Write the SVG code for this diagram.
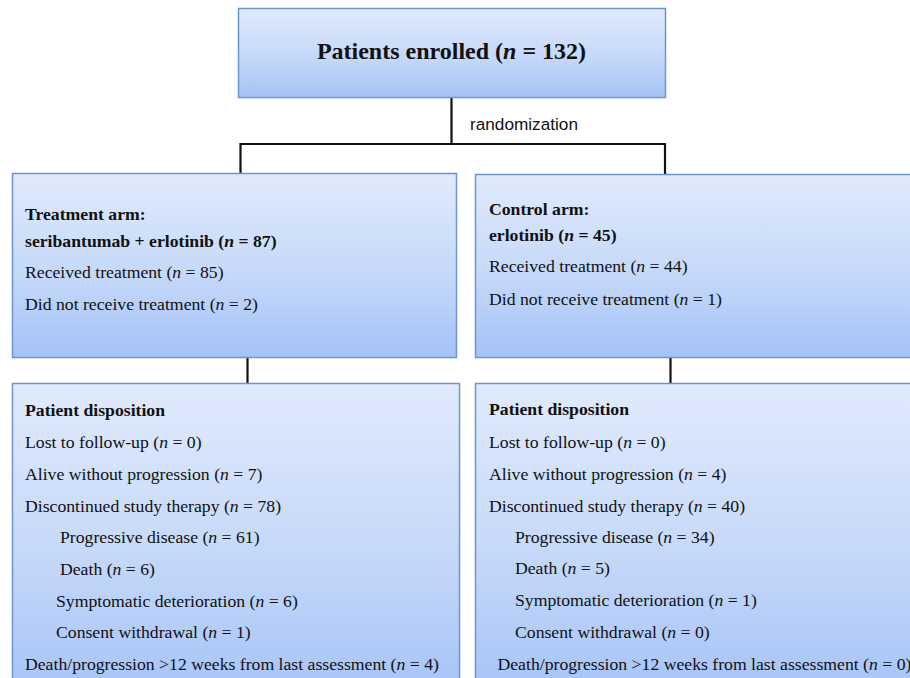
<svg xmlns="http://www.w3.org/2000/svg" width="910" height="678" viewBox="0 0 910 678">
<style>
.box{stroke:#6a94d4;stroke-width:1.5}
.t{font-family:"Liberation Serif","Times New Roman",serif;font-size:17.7px;fill:#111}
.b{font-weight:bold}
.i{font-style:italic}
.title{font-family:"Liberation Serif","Times New Roman",serif;font-size:24px;font-weight:bold;fill:#111}
.lab{font-family:"Liberation Sans",Arial,sans-serif;font-size:17.2px;fill:#111}
.conn{stroke:#111;stroke-width:2.2;fill:none}
</style>
<defs>
<linearGradient id="g" x1="0" y1="0" x2="0" y2="1">
<stop offset="0" stop-color="#e0eafc"/>
<stop offset="0.5" stop-color="#c8daf9"/>
<stop offset="1" stop-color="#a5c3f7"/>
</linearGradient>
</defs>
<g id="connectors">
<path class="conn" d="M451.5 97 V144 M239.5 144 H665 M240.5 143 V173 M665 143 V174"/>
<path class="conn" d="M247.5 357 V384"/>
<path class="conn" d="M670.5 358 V383"/>
<text class="lab" x="470" y="130">randomization</text>
</g>
<g id="enrolled">
<rect class="box" x="238.5" y="8.5" width="427" height="89" fill="url(#g)"/>
<text class="title" x="451.5" y="59" text-anchor="middle">Patients enrolled (<tspan class="i">n</tspan> = 132)</text>
</g>
<g id="treatment-arm">
<rect class="box" x="12.5" y="173.5" width="444" height="184" fill="url(#g)"/>
<text class="t b" x="25" y="220">Treatment arm:</text>
<text class="t b" x="25" y="247">seribantumab + erlotinib (<tspan class="i">n</tspan> = 87)</text>
<text class="t" x="25" y="278">Received treatment (<tspan class="i">n</tspan> = 85)</text>
<text class="t" x="25" y="310">Did not receive treatment (<tspan class="i">n</tspan> = 2)</text>
</g>
<g id="control-arm">
<rect class="box" x="475.5" y="174.5" width="445" height="183" fill="url(#g)"/>
<text class="t b" x="489" y="215">Control arm:</text>
<text class="t b" x="489" y="241">erlotinib (<tspan class="i">n</tspan> = 45)</text>
<text class="t" x="489" y="272">Received treatment (<tspan class="i">n</tspan> = 44)</text>
<text class="t" x="489" y="305">Did not receive treatment (<tspan class="i">n</tspan> = 1)</text>
</g>
<g id="treatment-disposition">
<rect class="box" x="12.5" y="383.5" width="447" height="315" fill="url(#g)"/>
<text class="t b" x="25" y="415.5">Patient disposition</text>
<text class="t" x="25" y="448">Lost to follow-up (<tspan class="i">n</tspan> = 0)</text>
<text class="t" x="25" y="480">Alive without progression (<tspan class="i">n</tspan> = 7)</text>
<text class="t" x="25" y="511.5">Discontinued study therapy (<tspan class="i">n</tspan> = 78)</text>
<text class="t" x="60" y="543">Progressive disease (<tspan class="i">n</tspan> = 61)</text>
<text class="t" x="60" y="575">Death (<tspan class="i">n</tspan> = 6)</text>
<text class="t" x="56" y="606.5">Symptomatic deterioration (<tspan class="i">n</tspan> = 6)</text>
<text class="t" x="56" y="638">Consent withdrawal (<tspan class="i">n</tspan> = 1)</text>
<text class="t" x="25" y="670">Death/progression &gt;12 weeks from last assessment (<tspan class="i">n</tspan> = 4)</text>
</g>
<g id="control-disposition">
<rect class="box" x="475.5" y="383.5" width="445" height="315" fill="url(#g)"/>
<text class="t b" x="489" y="415">Patient disposition</text>
<text class="t" x="489" y="447.5">Lost to follow-up (<tspan class="i">n</tspan> = 0)</text>
<text class="t" x="489" y="479.5">Alive without progression (<tspan class="i">n</tspan> = 4)</text>
<text class="t" x="489" y="511.5">Discontinued study therapy (<tspan class="i">n</tspan> = 40)</text>
<text class="t" x="515" y="542.5">Progressive disease (<tspan class="i">n</tspan> = 34)</text>
<text class="t" x="515" y="574">Death (<tspan class="i">n</tspan> = 5)</text>
<text class="t" x="515" y="606">Symptomatic deterioration (<tspan class="i">n</tspan> = 1)</text>
<text class="t" x="515" y="638">Consent withdrawal (<tspan class="i">n</tspan> = 0)</text>
<text class="t" x="497.5" y="670">Death/progression &gt;12 weeks from last assessment (<tspan class="i">n</tspan> = 0)</text>
</g>
</svg>
